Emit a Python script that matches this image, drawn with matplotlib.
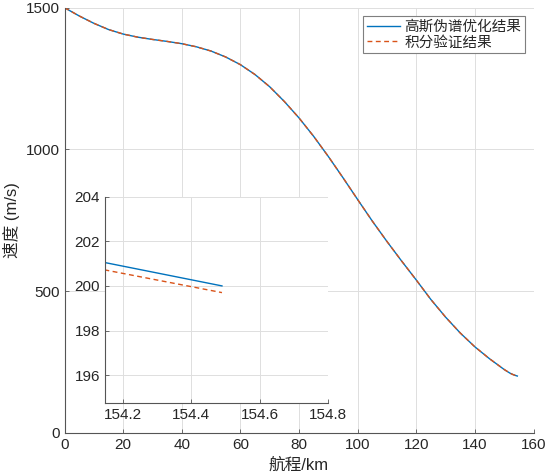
import matplotlib
matplotlib.use("Agg")
import matplotlib.pyplot as plt

plt.rcParams['font.family'] = ['Liberation Sans', 'Noto Sans CJK SC']
plt.rcParams['axes.unicode_minus'] = False

# range (km) and speed (m/s)
range_km = [0, 5, 10, 15, 20, 25, 30, 35, 40, 45, 50, 55, 60, 65, 70, 75, 80,
            85, 90, 95, 100, 105, 110, 115, 120, 125, 130, 135, 140, 145, 150,
            152, 153, 154.0, 154.15, 154.49]
v_gauss = [1500, 1471, 1445, 1423, 1407, 1396, 1388, 1381, 1373, 1362, 1347,
           1326, 1299, 1264, 1221, 1169, 1111, 1046, 975, 900, 823, 747, 675,
           606, 539, 470, 408, 352, 303, 261, 223, 210, 205.3, 201.5, 201.04,
           200.0]
v_integ = [1500, 1471, 1445, 1423, 1407, 1396, 1388, 1381, 1373, 1362, 1347,
           1326, 1299, 1264, 1221, 1169, 1111, 1046, 975, 900, 823, 747, 675,
           606, 539, 470, 408, 352, 303, 261, 223, 210, 205.1, 201.2, 200.71,
           199.70]

labels = ["高斯伪谱优化结果", "积分验证结果"]
blue = "#0072BD"
orange = "#D95319"
axis_c = "#262626"

W, H = 549, 476
fig = plt.figure(figsize=(W / 100, H / 100), dpi=100)


def matlab_style(ax):
    for s in ["top", "right"]:
        ax.spines[s].set_visible(False)
    for s in ["left", "bottom"]:
        ax.spines[s].set_color("#555555")
        ax.spines[s].set_linewidth(0.8)
    ax.tick_params(direction="in", length=3, width=0.6, colors="#555555",
                   labelcolor=axis_c, labelsize=11)
    ax.grid(True, color="#dedede", linewidth=0.7)
    ax.set_axisbelow(True)


# main axes
ax = fig.add_axes([64.5 / W, 1 - 432.7 / H, 469 / W, 425 / H])
ax.plot(range_km, v_gauss, color=blue, lw=1.0, label=labels[0])
ax.plot(range_km, v_integ, color=orange, lw=1.0, ls=(0, (3.5, 2.5)), label=labels[1])
ax.set_xlim(0, 160)
ax.set_ylim(0, 1500)
ax.set_xticks(range(0, 161, 20))
ax.set_yticks([0, 500, 1000, 1500])
matlab_style(ax)
ax.set_xlabel("航程/km", fontsize=12, color=axis_c, labelpad=4)
ax.set_ylabel("速度 (m/s)", fontsize=12, color=axis_c, labelpad=4)

leg = ax.legend(loc="upper right", fontsize=10.5, frameon=True, fancybox=False,
                edgecolor="#7f7f7f", framealpha=1, borderaxespad=0.6,
                handlelength=2.3, handletextpad=0.25, borderpad=0.25,
                labelspacing=0.1)
leg.get_frame().set_linewidth(0.8)
for t in leg.get_texts():
    t.set_color(axis_c)

# inset zoom near the end point
axin = fig.add_axes([105 / W, 1 - 403 / H, 223 / W, 206.3 / H])
axin.plot(range_km, v_gauss, color=blue, lw=1.0)
axin.plot(range_km, v_integ, color=orange, lw=1.0, ls=(0, (3.5, 2.5)))
axin.set_xlim(154.148, 154.8)
axin.set_ylim(194.75, 204)
axin.set_xticks([154.2, 154.4, 154.6, 154.8])
axin.set_yticks([196, 198, 200, 202, 204])
axin.set_facecolor("white")
matlab_style(axin)

fig.savefig("out.png", dpi=100)
